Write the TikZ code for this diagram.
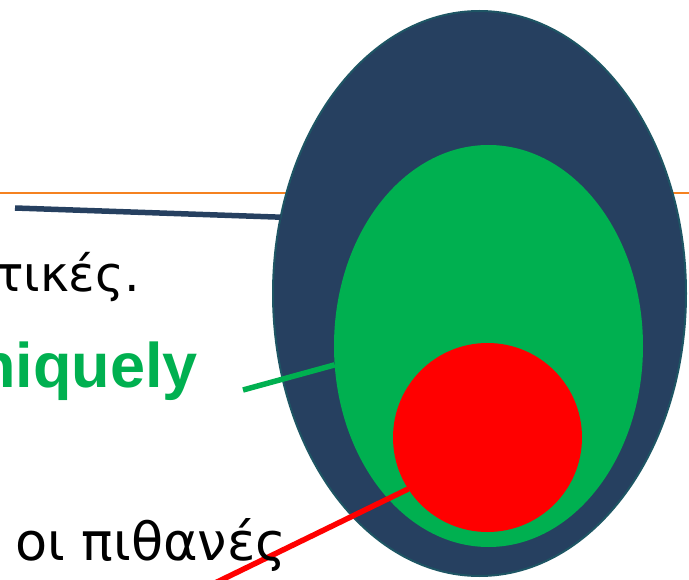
\documentclass[tikz,border=0pt]{standalone}
\usepackage{fontspec}
\setmainfont{DejaVu Sans}
\newfontfamily\boldlatin{Liberation Sans}
\usetikzlibrary{shapes.geometric}
\definecolor{navyfill}{RGB}{38,64,96}
\definecolor{navyedge}{RGB}{30,85,100}
\definecolor{offgreen}{RGB}{0,176,80}
\definecolor{offorange}{RGB}{245,130,32}
\begin{document}
\begin{tikzpicture}[x=1pt,y=-1pt,
  blob/.style={inner sep=0pt, outer sep=0pt},
  label/.style={inner sep=0pt, font=\fontsize{51pt}{61pt}\selectfont},
  conn/.style={line width=5.5pt}]
\useasboundingbox (0,0) rectangle (689,580);
\coordinate (hl) at (0,193);
\coordinate (hr) at (689,193);
\draw[offorange, line width=1.5pt] (hl) -- (hr);
\node[blob, ellipse, fill=navyfill, draw=navyedge, line width=2pt,
      minimum width=413pt, minimum height=565pt] (outer) at (479.5,293.5) {};
\coordinate (c1) at (15,208);
\draw[conn, navyfill] (c1) -- (outer.159.8);
\node[blob, ellipse, fill=offgreen, minimum width=309pt, minimum height=402pt] (mid) at (488.5,346) {};
\coordinate (c2) at (243,390);
\draw[conn, offgreen] (c2) -- (mid.187);
\node[blob, circle, fill=red, minimum size=189pt] (inner) at (487.5,437.5) {};
\coordinate (c3) at (213,584);
\draw[conn, red] (c3) -- (inner.213);
\node[label, anchor=base east, font=\fontsize{49pt}{59pt}\selectfont] (t1) at (140,292) {ετικές.};
\node[label, anchor=base east, text=offgreen, font=\boldlatin\fontsize{63pt}{75pt}\selectfont\bfseries] (t2) at (198,388) {niquely};
\node[label, anchor=base west, font=\fontsize{52.5pt}{63pt}\selectfont] (t3) at (15,560) {οι πιθανές};
\end{tikzpicture}
\end{document}
